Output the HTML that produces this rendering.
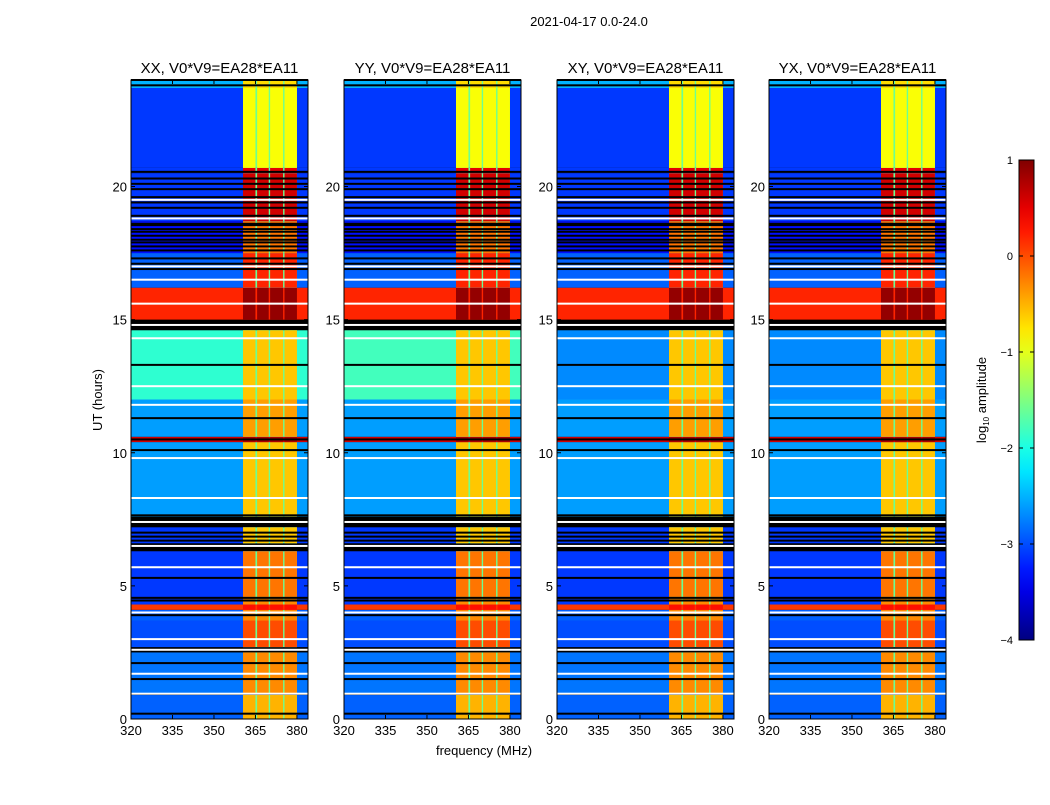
<!DOCTYPE html>
<html><head><meta charset="utf-8"><style>
body{margin:0;background:#fff;}
svg text{font-family:"Liberation Sans","DejaVu Sans",sans-serif;}
</style></head><body>
<svg id="fig" width="1050" height="800" viewBox="0 0 1050 800" xmlns="http://www.w3.org/2000/svg">
<rect width="1050" height="800" fill="#fff"/>
<text x="589" y="26" font-size="13" text-anchor="middle">2021-04-17 0.0-24.0</text>
<text x="484" y="755" font-size="13" text-anchor="middle">frequency (MHz)</text>
<text transform="translate(102,400) rotate(-90)" font-size="13" text-anchor="middle">UT (hours)</text>
<g id="panels"></g>
<g id="cbar"></g>
</svg>
<script>
const panelTitles = ["XX, V0*V9=EA28*EA11","YY, V0*V9=EA28*EA11","XY, V0*V9=EA28*EA11","YX, V0*V9=EA28*EA11"];
const xTicks = [320,335,350,365,380];
const yTicks = [0,5,10,15,20];
const cbTicks = [1,0,-1,-2,-3,-4];
// time segments (hours) with background and band levels (log10 amplitude)
const segStart = [0,0.95,2.7,3.7,4.1,4.3,4.6,6.6,7.6,10.4,10.6,12.0,15.0,16.2,17.5,18.7,20.5,20.7,23.7];
const segEnd   = [0.9,2.5,3.7,4.1,4.3,4.6,6.3,7.2,10.4,10.6,12.0,14.6,16.2,17.5,18.7,20.5,20.7,23.7,24.0];
const segBg    = [-2.9,-2.8,-3.0,-2.9,0.1,-3.1,-3.1,-3.1,-2.6,0.6,-2.6,-1.9,0.2,-2.9,-3.3,-3.1,-3.1,-3.1,-2.5];
const segBand  = [-0.5,-0.3,0.0,-0.3,0.3,-0.3,-0.2,-0.6,-0.6,0.8,-0.4,-0.6,0.9,0.2,-0.2,0.6,0.5,-0.9,-0.7];
// panel-specific background for 12-14.6 h segment
const midBg = [-1.9,-1.8,-2.7,-2.7];
const blackLines = [0.2,1.5,2.1,2.55,3.9,4.45,4.55,5.3,6.4,6.7,6.85,7.0,7.65,10.1,10.5,11.3,13.3,14.7,16.9,17.1,17.3,17.6,17.75,17.9,18.0,18.15,18.3,18.4,18.55,18.6,18.9,19.2,19.4,19.6,19.9,20.1,20.3,20.55,23.8,24.0];
const whiteLines = [0.95,1.7,2.6,3.0,4.0,5.7,6.5,7.4,8.3,9.8,11.8,12.5,14.3,14.8,15.6,16.5,17.0,18.8,19.5];
const subBands = [[360.5,365.0],[365.6,369.8],[370.3,375.0],[375.5,380.0]];
const gapLevel = -1.6;

const NS="http://www.w3.org/2000/svg";
const panelX=[131,344,557,769], PW=177, YT=80, YB=719;
const FMIN=320, FMAX=384.0, HMAX=24;
function jet(v){let t=(v+4)/5;t=Math.max(0,Math.min(1,t));
 const r=Math.max(0,Math.min(1,1.5-Math.abs(4*t-3))),g=Math.max(0,Math.min(1,1.5-Math.abs(4*t-2))),b=Math.max(0,Math.min(1,1.5-Math.abs(4*t-1)));
 return `rgb(${Math.round(r*255)},${Math.round(g*255)},${Math.round(b*255)})`;}
function el(tag,attrs,parent){const e=document.createElementNS(NS,tag);for(const k in attrs)e.setAttribute(k,attrs[k]);parent.appendChild(e);return e;}
const root=document.getElementById('panels');
panelX.forEach((px,p)=>{
 const xs=f=>px+(f-FMIN)/(FMAX-FMIN)*PW;
 const ys=h=>YB-h/HMAX*(YB-YT);
 const g=el('g',{},root);
 
 
 const bgR=el('rect',{x:px,y:YT,width:PW,height:YB-YT,fill:'#000'},g);
 
 
 segStart.forEach((s,i)=>{
  const bg=(i===11)?midBg[p]:segBg[i];
  const y0=ys(segEnd[i]),h=ys(s)-ys(segEnd[i]);
  const c=el('rect',{x:px,y:y0,width:PW,height:h,fill:jet(bg)},g);
  
  
  const gp=el('rect',{x:xs(subBands[0][0]),y:y0,width:xs(subBands[3][1])-xs(subBands[0][0]),height:h,fill:jet(Math.max(bg,gapLevel))},g);
  
  
  subBands.forEach(b=>{
   const r=el('rect',{x:xs(b[0]),y:y0,width:xs(b[1])-xs(b[0]),height:h,fill:jet(segBand[i])},g);
   
   
  });
 });
 blackLines.forEach(h=>{const l=el('rect',{x:px,y:ys(h)-1,width:PW,height:2,fill:'#000'},g);
  
  });
 whiteLines.forEach(h=>{const l=el('rect',{x:px,y:ys(h)-1,width:PW,height:2,fill:'#fff'},g);
  
  });
 const fr=el('rect',{x:px,y:YT,width:PW,height:YB-YT,fill:'none',stroke:'#000','stroke-width':1},g);
 
 
 const t=el('text',{x:px+PW/2,y:73,'font-size':15,'text-anchor':'middle'},g);t.textContent=panelTitles[p];
 
 
 xTicks.forEach(v=>{const x=xs(v);
  el('line',{x1:x,x2:x,y1:YB,y2:YB-4,stroke:'#000'},g);el('line',{x1:x,x2:x,y1:YT,y2:YT+4,stroke:'#000'},g);
  const tt=el('text',{x:x,y:YB+16,'font-size':13,'text-anchor':'middle'},g);tt.textContent=v;
  
  });
 yTicks.forEach(v=>{const y=ys(v);
  el('line',{x1:px,x2:px+4,y1:y,y2:y,stroke:'#000'},g);el('line',{x1:px+PW,x2:px+PW-4,y1:y,y2:y,stroke:'#000'},g);
  const tt=el('text',{x:px-4,y:y+5,'font-size':13,'text-anchor':'end'},g);tt.textContent=v;
  
  });
});
// colorbar
const cb=document.getElementById('cbar');
const CX=1019,CW=15,CT=160,CB=640;
const defs=el('defs',{},cb);const lg=el('linearGradient',{id:'jg',x1:0,y1:1,x2:0,y2:0},defs);
for(let i=0;i<=20;i++){el('stop',{offset:i/20,'stop-color':jet(-4+5*i/20)},lg);}
el('rect',{x:CX,y:CT,width:CW,height:CB-CT,fill:'url(#jg)',stroke:'#000'},cb);
const cy=v=>CB-(v+4)/5*(CB-CT);
cbTicks.forEach(v=>{const y=cy(v);
 el('line',{x1:CX,x2:CX+4,y1:y,y2:y,stroke:'#000'},cb);el('line',{x1:CX+CW,x2:CX+CW-4,y1:y,y2:y,stroke:'#000'},cb);
 const t=el('text',{x:1013,y:y+4,'font-size':11,'text-anchor':'end'},cb);t.textContent=(v<0?'\u2212'+(-v):v);
 
 });
const lab=el('text',{transform:'translate(986,400) rotate(-90)','font-size':13,'text-anchor':'middle'},cb);
lab.innerHTML='log<tspan font-size="8" dy="3">10</tspan><tspan dy="-3"> amplitude</tspan>';


</script>
</body></html>
